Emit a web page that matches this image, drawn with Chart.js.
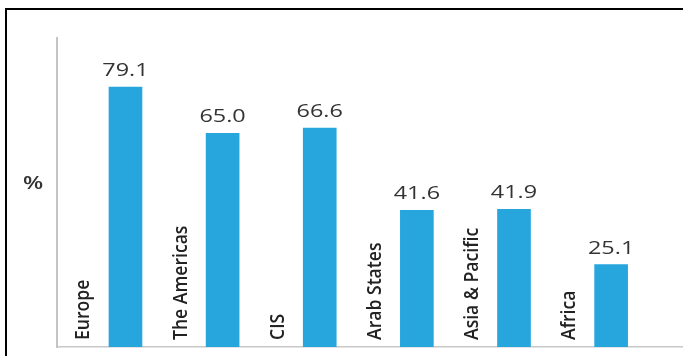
<!DOCTYPE html>
<html><head><meta charset="utf-8">
<script src="https://cdn.jsdelivr.net/npm/chart.js@4"></script>
<style>
html,body{margin:0;padding:0;background:#fff;}
#wrap{position:relative;width:683px;height:356px;overflow:hidden;background:#fff;}
#frame{position:absolute;left:5px;top:8px;width:720px;height:420px;border-left:2px solid #000;border-top:2px solid #000;pointer-events:none;}
canvas{position:absolute;left:0;top:0;}
</style></head><body>
<div id="wrap"><canvas id="c" width="683" height="356"></canvas><div id="frame"></div></div>
<script>
const categories = ['Europe', 'The Americas', 'CIS', 'Arab States', 'Asia & Pacific', 'Africa'];
const shares = [79.1, 65.0, 66.6, 41.6, 41.9, 25.1];
const valueLabels = ['79.1', '65.0', '66.6', '41.6', '41.9', '25.1'];
const unitLabel = '%';

const labelPlugin = {
  id: 'labels',
  afterDatasetsDraw(chart) {
    const ctx = chart.ctx;
    const meta = chart.getDatasetMeta(0);
    const area = chart.chartArea;
    ctx.save();
    meta.data.forEach((el, i) => {
      // value label
      ctx.save();
      ctx.translate(el.x, el.y - 16);
      ctx.scale(1.3, 1);
      ctx.font = '500 18px "Open Sans"';
      ctx.fillStyle = '#333333';
      ctx.textAlign = 'center';
      ctx.textBaseline = 'middle';
      ctx.fillText(valueLabels[i], 0, 0);
      ctx.restore();
      // category label (vertical)
      ctx.save();
      ctx.translate(el.x - 36, area.bottom - 7);
      ctx.rotate(-Math.PI / 2);
      ctx.scale(0.88, 1);
      ctx.font = '600 20px "Open Sans"';
      ctx.fillStyle = '#222222';
      ctx.textAlign = 'left';
      ctx.textBaseline = 'alphabetic';
      ctx.fillText(categories[i], 0, 0);
      ctx.restore();
    });
    // unit label
    ctx.save();
    ctx.translate(area.left - 24, (area.top + area.bottom) / 2 - 9);
    ctx.scale(1.3, 1);
    ctx.font = '600 18px "Open Sans"';
    ctx.fillStyle = '#333333';
    ctx.textAlign = 'center';
    ctx.textBaseline = 'middle';
    ctx.fillText(unitLabel, 0, 0);
    ctx.restore();
    ctx.restore();
  }
};

new Chart(document.getElementById('c'), {
  type: 'bar',
  data: {
    datasets: [{
      data: shares.map((v, i) => ({ x: i, y: v })),
      backgroundColor: '#27a6de',
      borderWidth: 0,
      barThickness: 33
    }]
  },
  options: {
    responsive: false,
    animation: false,
    devicePixelRatio: 1,
    layout: { padding: { left: 57, top: 38, right: 0, bottom: 9 } },
    plugins: { legend: { display: false }, tooltip: { enabled: false } },
    scales: {
      x: {
        type: 'linear',
        offset: false,
        min: -0.705,
        max: 5.74,
        grid: { display: false, drawTicks: false },
        ticks: { display: false },
        border: { display: true, color: '#c8c8c8', width: 1.5 }
      },
      y: {
        min: 0,
        max: 94,
        grid: { display: false, drawTicks: false },
        ticks: { display: false },
        border: { display: true, color: '#c4c4c4', width: 2 }
      }
    }
  },
  plugins: [labelPlugin]
});
</script>
</body></html>
